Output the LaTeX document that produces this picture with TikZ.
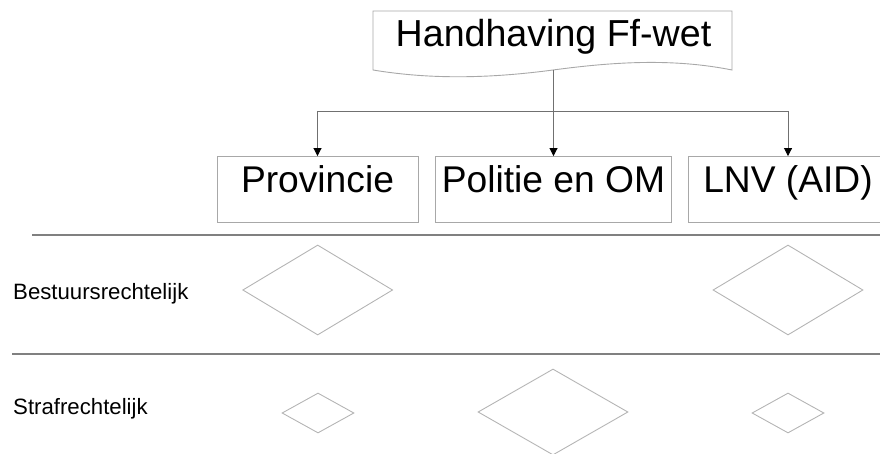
\documentclass[tikz,border=0pt]{standalone}
\usepackage{fontspec}
\setmainfont{Liberation Sans}
\usetikzlibrary{arrows.meta,shapes.geometric}
\definecolor{boxline}{HTML}{A8A8A8}
\definecolor{connline}{HTML}{707070}
\definecolor{sepline}{HTML}{808080}
\definecolor{diamline}{HTML}{B4B4B4}
\tikzset{
  orgbox/.style={draw=boxline, line width=0.9pt, inner sep=0pt, font=\fontsize{37.2}{40}\selectfont,
    text height=0.75em, text depth=0.2em, minimum height=66pt},
  conn/.style={draw=connline, line width=0.9pt},
  arr/.style={conn, -{Triangle[length=8pt,width=8pt,black]}},
  sep/.style={draw=sepline, line width=1.3pt},
  diam/.style={diamond, draw=diamline, line width=0.9pt, inner sep=0pt},
  rowlabel/.style={anchor=base west, inner sep=0pt, font=\fontsize{22.2}{24}\selectfont}
}
\begin{document}
\begin{tikzpicture}[x=1pt,y=-1pt]
\useasboundingbox (0,0) rectangle (880,454);
% top document shape
\draw[draw=boxline, line width=0.9pt, fill=white]
  (373,70) -- (373,11) -- (732,11) -- (732,70)
  .. controls (672,58) and (613,62) .. (553,70)
  .. controls (493,78) and (433,80) .. (373,70) -- cycle;
\node[anchor=base, inner sep=0pt, font=\fontsize{37.6}{40}\selectfont] (top) at (553.5,47) {Handhaving Ff-wet};
\coordinate (topb) at (553.5,70);
\coordinate (j) at (553.5,111);
% boxes
\node[orgbox, minimum width=201pt] (prov) at (317.5,189.5) {Provincie};
\node[orgbox, minimum width=236pt] (pol) at (553.5,189.5) {Politie en OM};
\node[orgbox, minimum width=200pt] (lnv) at (788,189.5) {LNV (AID)};
% connectors
\draw[conn] (topb) -- (j);
\draw[conn] (prov.north |- j) -- (lnv.north |- j);
\draw[arr] (prov.north |- j) -- (prov.north);
\draw[arr] (j) -- (pol.north);
\draw[arr] (lnv.north |- j) -- (lnv.north);
% separators
\coordinate (s1a) at (32,235);
\coordinate (s1b) at (880,235);
\coordinate (s2a) at (12,354);
\coordinate (s2b) at (880,354);
\draw[sep] (s1a) -- (s1b);
\draw[sep] (s2a) -- (s2b);
% row labels
\node[rowlabel] (lb1) at (13,299) {Bestuursrechtelijk};
\node[rowlabel] (lb2) at (13,414) {Strafrechtelijk};
% diamonds
\node[diam, minimum width=150pt, minimum height=90pt] (d1) at (317.7,290) {};
\node[diam, minimum width=150pt, minimum height=90pt] (d2) at (788,290) {};
\node[diam, minimum width=72pt, minimum height=40pt] (d3) at (318,413) {};
\node[diam, minimum width=150pt, minimum height=86pt] (d4) at (553,412) {};
\node[diam, minimum width=72pt, minimum height=40pt] (d5) at (788,413) {};
\end{tikzpicture}
\end{document}
